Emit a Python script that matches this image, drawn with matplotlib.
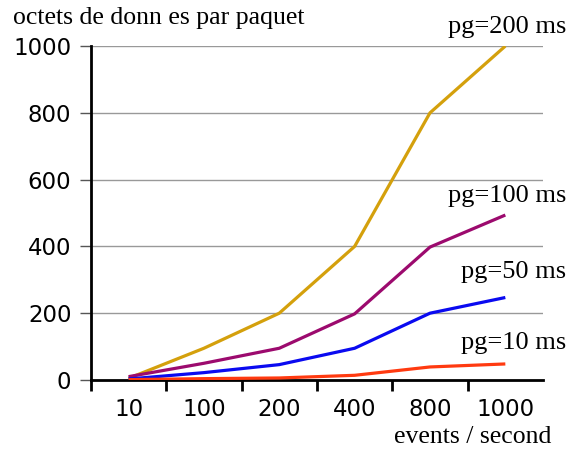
import matplotlib
matplotlib.use("Agg")
import matplotlib.pyplot as plt

# x categories (events / second)
rates = ["10", "100", "200", "400", "800", "1000"]
# octets de données par paquet, one series per pg value
pg200 = [5, 95, 200, 400, 800, 1000]
pg100 = [10, 50, 95, 198, 398, 494]
pg50 = [3, 22, 46, 95, 200, 247]
pg10 = [1, 4, 6, 14, 39, 48]
yvals = [0, 200, 400, 600, 800, 1000]

series = [
    ("pg=200 ms", pg200, "#d4a00c"),
    ("pg=100 ms", pg100, "#9c0a6e"),
    ("pg=50 ms", pg50, "#0a0af0"),
    ("pg=10 ms", pg10, "#ff3a10"),
]

fig = plt.figure(figsize=(5.68, 4.5), dpi=100)
ax = fig.add_axes([0.160, 0.1556, 0.796, 0.742])

xs = [i + 0.5 for i in range(len(rates))]
for name, vals, col in series:
    ax.plot(xs, vals, color=col, lw=2.3, solid_capstyle="butt", zorder=3)

ax.set_xlim(0, 6)
ax.set_ylim(0, 1000)
ax.set_yticks(yvals)
ax.set_yticklabels([str(v) for v in yvals], fontsize=16.5, family="DejaVu Sans")
ax.set_xticks(range(0, 6))
ax.set_xticklabels([])
ax.set_xticks(xs, minor=True)
ax.set_xticklabels(rates, minor=True, fontsize=16.5, family="DejaVu Sans")
ax.tick_params(axis="x", which="minor", length=0, pad=13)
ax.tick_params(axis="x", which="major", length=8, width=2, direction="out")
ax.tick_params(axis="y", length=8, width=1, color="#555555", direction="out", pad=6)

for v in yvals[1:]:
    ax.axhline(v, color="#999999", lw=1, zorder=1)

ax.spines["top"].set_visible(False)
ax.spines["right"].set_visible(False)
ax.spines["left"].set_linewidth(2)
ax.spines["bottom"].set_linewidth(2)

serif = "Liberation Serif"
fig.text(13 / 568, 1 - 18 / 450, "octets de donn es par paquet", family=serif,
         fontsize=18.5, ha="left", va="center")
fig.text(551 / 568, 1 - 437 / 450, "events / second", family=serif,
         fontsize=18.5, ha="right", va="center")
label_y = [27, 196, 272, 343]
for (name, vals, col), yy in zip(series, label_y):
    fig.text(566 / 568, 1 - yy / 450, name, family=serif, fontsize=19,
             ha="right", va="center")

fig.savefig("out.png", dpi=100)
